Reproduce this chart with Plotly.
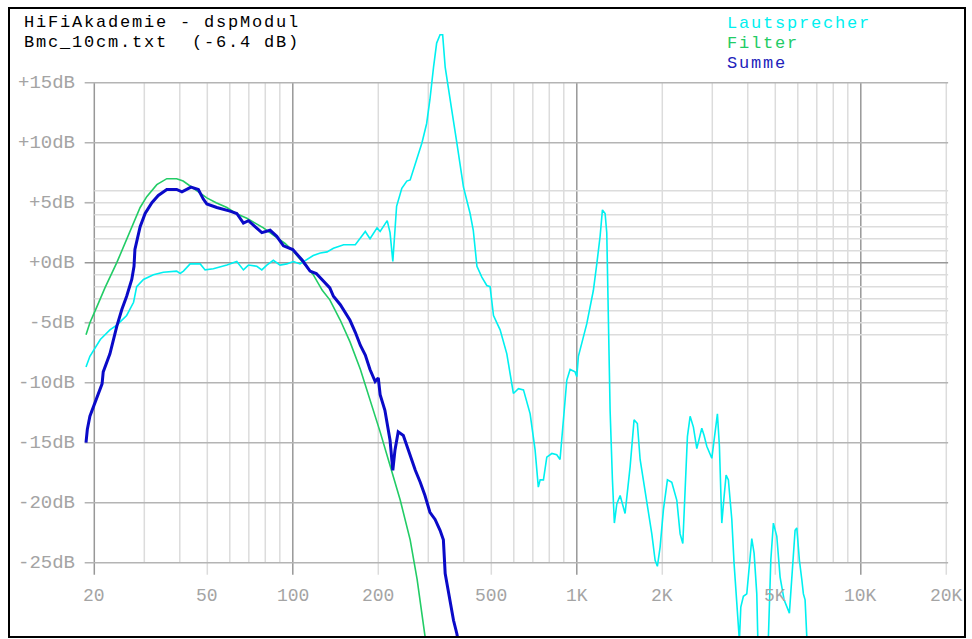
import numpy as np
import plotly.graph_objects as go

# ---- Messdaten (Frequenz in Hz, Pegel in dB) ----
lautsprecher_hz = [18.7, 19.3, 21.0, 22.7, 24.0, 26.0, 27.5, 28.2, 29.8, 32.3,
                   35.0, 39.0, 40.1, 41.2, 43.5, 47.2, 49.1, 52.5, 58.6, 63.5,
                   67.0, 69.8, 74.7, 77.8, 81.0, 85.4, 90.2, 95.2, 100.5, 106,
                   118, 125, 132, 139, 151, 166, 180, 187, 198, 203,
                   215, 220, 225, 229, 232, 242, 252, 259, 270, 285,
                   296, 304, 313, 321, 330, 337, 344, 353, 363, 378,
                   399, 421, 432, 445, 463, 482, 495, 509, 537, 567,
                   598, 623, 649, 685, 713, 732, 743, 763, 784, 817,
                   850, 873, 897, 922, 947, 986, 1000, 1013, 1084, 1144,
                   1176, 1208, 1231, 1258, 1275, 1292, 1310, 1335, 1356, 1383,
                   1421, 1479, 1541, 1591, 1634, 1671, 1764, 1837, 1887, 1922,
                   1965, 2018, 2085, 2160, 2250, 2311, 2362, 2406, 2452, 2506,
                   2574, 2646, 2755, 2807, 2869, 2988, 3069, 3127, 3178, 3240,
                   3301, 3355, 3418, 3514, 3580, 3659, 3737, 3780, 3860, 3968,
                   4076, 4132, 4210, 4303, 4338, 4492, 4728, 4821, 4923, 5061,
                   5198, 5369, 5605, 5715, 5870, 5952, 6079, 6198, 6279, 6366,
                   6455, 6630]
lautsprecher_db = [-8.7, -7.8, -6.4, -5.6, -5.2, -4.4, -3.3, -2.0, -1.4, -1.0,
                   -0.8, -0.7, -0.9, -0.7, -0.1, -0.1, -0.6, -0.5, -0.2, 0.1,
                   -0.6, -0.2, -0.3, -0.6, -0.2, 0.2, -0.2, -0.1, 0.1, -0.1,
                   0.6, 0.8, 0.9, 1.2, 1.5, 1.5, 2.6, 2.0, 2.9, 2.6,
                   3.5, 2.5, 0.1, 2.5, 4.7, 6.2, 6.8, 6.9, 8.3, 10.0,
                   11.6, 13.6, 16.3, 18.3, 19.0, 19.0, 16.3, 14.7, 12.7, 10.0,
                   6.3, 4.1, 2.7, -0.3, -1.2, -1.9, -2.0, -4.4, -5.6, -7.6,
                   -10.9, -10.5, -10.6, -12.6, -15.6, -18.7, -18.1, -18.1, -16.2, -15.9,
                   -16.0, -16.4, -13.4, -9.8, -8.9, -9.1, -9.5, -7.8, -5.1, -2.3,
                   -0.1, 2.2, 4.4, 4.1, 2.5, -6.4, -12.3, -18.1, -21.7, -20.1,
                   -19.4, -20.9, -17.0, -13.1, -13.4, -16.4, -19.8, -22.6, -24.8, -25.3,
                   -23.7, -20.6, -18.1, -18.3, -19.8, -22.6, -23.4, -19.2, -14.5, -12.8,
                   -13.7, -15.5, -13.8, -14.4, -15.3, -16.3, -14.2, -12.6, -15.3, -21.7,
                   -19.5, -17.7, -18.1, -21.4, -25.1, -28.1, -31.5, -28.7, -27.8, -27.6,
                   -24.8, -23.0, -24.2, -27.6, -31.2, -34.0, -31.2, -24.8, -21.7, -22.8,
                   -26.2, -28.1, -29.2, -26.2, -22.3, -22.1, -24.8, -26.4, -27.6, -28.1,
                   -31.2, -33.1]

filter_hz = [18.7, 19.3, 20.4, 21.8, 24.0, 25.7, 27.4, 29.0, 30.6, 33.2,
             36.0, 39.0, 41.1, 43.5, 47.2, 49.8, 53.7, 58.6, 63.1, 68.9,
             73.7, 78.8, 86.6, 93.9, 100, 106, 118, 127, 135, 147,
             159, 173, 187, 203, 220, 239, 259, 274, 292, 304]
filter_db = [-6.0, -5.0, -3.7, -2.1, 0.0, 1.7, 3.3, 4.6, 5.5, 6.5,
             7.0, 7.0, 6.8, 6.4, 5.8, 5.4, 5.0, 4.6, 4.1, 3.7,
             3.3, 2.9, 2.2, 1.6, 1.0, 0.3, -1.0, -2.3, -3.1, -4.8,
             -6.6, -8.9, -11.4, -14.1, -16.9, -19.8, -23.1, -26.4, -31.1, -35.0]

summe_hz = [18.7, 18.9, 19.3, 20.4, 21.3, 21.5, 22.7, 24.0, 25.0, 26.0,
            27.1, 27.6, 27.8, 29.0, 30.2, 31.9, 33.6, 36.0, 39.0, 40.7,
            42.3, 43.8, 46.5, 48.4, 49.8, 54.0, 60.1, 63.5, 67.0, 69.8,
            77.8, 83.2, 87.8, 92.7, 100, 108, 115, 121, 135, 139,
            147, 159, 166, 173, 180, 187, 195, 200, 203, 211,
            220, 225, 229, 235, 245, 255, 270, 281, 292, 304,
            317, 330, 339, 344, 353, 361, 368, 378, 388]
summe_db = [-15.0, -13.9, -12.8, -11.2, -10.1, -9.1, -7.6, -5.3, -3.9, -2.8,
            -1.4, -0.3, 1.1, 3.0, 4.1, 5.0, 5.6, 6.1, 6.1, 5.9,
            6.1, 6.3, 6.1, 5.3, 4.9, 4.6, 4.3, 4.1, 3.3, 3.5,
            2.5, 2.7, 2.2, 1.4, 1.1, 0.2, -0.7, -0.9, -2.1, -2.8,
            -3.5, -4.8, -5.8, -6.9, -7.7, -8.9, -9.9, -9.6, -11.0, -12.3,
            -14.8, -17.3, -15.6, -14.1, -14.4, -15.6, -17.3, -18.3, -19.4, -20.8,
            -21.4, -22.3, -23.1, -25.9, -27.3, -28.7, -29.8, -30.9, -32.3]

# ---- Achsenbeschriftung ----
x_tick_hz = [20, 50, 100, 200, 500, 1000, 2000, 5000, 10000, 20000]
x_tick_text = ["20", "50", "100", "200", "500", "1K", "2K", "5K", "10K", "20K"]
y_tick_db = [15, 10, 5, 0, -5, -10, -15, -20, -25]
y_tick_text = ["+15dB", "+10dB", "+5dB", "+0dB", "-5dB", "-10dB", "-15dB", "-20dB", "-25dB"]
minor_db = [6, 4, 3, 2, 1, -1, -2, -3, -4, -6]
minor_hz = ([30, 40, 60, 70, 80, 90] + [300, 400, 600, 700, 800, 900]
            + [3000, 4000, 6000, 7000, 8000, 9000])

title_lines = ["HiFiAkademie - dspModul", "Bmc_10cm.txt  (-6.4 dB)"]
series_names = ["Lautsprecher", "Filter", "Summe"]

# ---- Farben ----
C_CYAN = "#00F0F0"
C_GREEN = "#22CC66"
C_BLUE = "#0A0AC8"
C_BLUE_TEXT = "#2222BB"
C_LABEL = "#A4A4A4"
C_GRID_LIGHT = "#DCDCDC"
C_GRID_MID = "#B4B4B4"
C_GRID_DARK = "#989898"
FONT = "Liberation Mono"

# ---- Geometrie des Diagrammrahmens (Pixel) ----
W, H = 972, 639
FRAME_L, FRAME_R, FRAME_T, FRAME_B = 10, 964, 9, 636
X_RANGE = [1.0042, 4.3634]          # log10(Hz) am Rahmenrand
Y_RANGE = [-31.11, 21.14]           # dB am Rahmenrand
GRID_LEFT_HZ, GRID_RIGHT_HZ = 18.5, 20300
TICK_BOTTOM_DB = -26.0
Y_LABEL_HZ = 17.4
X_LABEL_DB = -27.8


def paper_x(px):
    return (px - FRAME_L) / (FRAME_R - FRAME_L)


def paper_y(py):
    return (FRAME_B - py) / (FRAME_B - FRAME_T)


def text_block(lines, colors, size_px, spacing_px):
    # mehrzeiliger Text; Zeilenabstand kommt von der Grundschrift der Annotation,
    # die breite Zeichenteilung der Bildschirmschrift per letter-spacing
    parts = []
    for line, col in zip(lines, colors):
        parts.append('<span style="font-size:%dpx;letter-spacing:%.1fpx;color:%s">%s</span>'
                     % (size_px, spacing_px, col, line.replace(" ", "&nbsp;")))
    return "<br>".join(parts)


fig = go.Figure()

fig.add_trace(go.Scatter(x=lautsprecher_hz, y=lautsprecher_db, mode="lines",
                         name=series_names[0], line=dict(color=C_CYAN, width=1.6)))
fig.add_trace(go.Scatter(x=filter_hz, y=filter_db, mode="lines",
                         name=series_names[1], line=dict(color=C_GREEN, width=1.6)))
fig.add_trace(go.Scatter(x=summe_hz, y=summe_db, mode="lines",
                         name=series_names[2], line=dict(color=C_BLUE, width=3)))

shapes = []
# senkrechte Rasterlinien
for f in minor_hz:
    shapes.append(dict(type="line", xref="x", yref="y", x0=f, x1=f, y0=-25, y1=15,
                       line=dict(color=C_GRID_LIGHT, width=1.5), layer="below"))
for f in x_tick_hz:
    col = C_GRID_DARK if f in (20, 100, 1000, 10000) else C_GRID_LIGHT
    shapes.append(dict(type="line", xref="x", yref="y", x0=f, x1=f, y0=TICK_BOTTOM_DB, y1=15,
                       line=dict(color=col, width=1.5), layer="below"))
# waagrechte Rasterlinien
for d in minor_db:
    shapes.append(dict(type="line", xref="x", yref="y", x0=20, x1=GRID_RIGHT_HZ, y0=d, y1=d,
                       line=dict(color=C_GRID_LIGHT, width=1.5), layer="below"))
for d in y_tick_db:
    if d == 0:
        col = C_GRID_DARK
    elif d in (5, -5):
        col = C_GRID_LIGHT
    else:
        col = C_GRID_MID
    shapes.append(dict(type="line", xref="x", yref="y", x0=GRID_LEFT_HZ, x1=GRID_RIGHT_HZ,
                       y0=d, y1=d, line=dict(color=col, width=1.5), layer="below"))
    if d in (5, -5):
        shapes.append(dict(type="line", xref="x", yref="y", x0=GRID_LEFT_HZ, x1=20,
                           y0=d, y1=d, line=dict(color=C_GRID_MID, width=1.5), layer="below"))

annotations = []
for d, t in zip(y_tick_db, y_tick_text):
    annotations.append(dict(x=np.log10(Y_LABEL_HZ), y=d, xref="x", yref="y", text=t,
                            showarrow=False, xanchor="right", yanchor="middle",
                            font=dict(family=FONT, size=19, color=C_LABEL)))
for f, t in zip(x_tick_hz, x_tick_text):
    annotations.append(dict(x=np.log10(f), y=X_LABEL_DB, xref="x", yref="y", text=t,
                            showarrow=False, xanchor="center", yanchor="middle",
                            font=dict(family=FONT, size=18, color=C_LABEL)))

# Kopfzeilen und Legende als je ein mehrzeiliger Textblock
annotations.append(dict(x=paper_x(22), y=paper_y(10.8), xref="paper", yref="paper",
                        text=text_block(title_lines, ["#000000"] * 2, 17, 1.8),
                        showarrow=False, xanchor="left", yanchor="top", align="left",
                        font=dict(family=FONT, size=15.15, color="#000000")))
annotations.append(dict(x=paper_x(725), y=paper_y(12.2), xref="paper", yref="paper",
                        text=text_block(series_names, [C_CYAN, C_GREEN, C_BLUE_TEXT], 17, 1.8),
                        showarrow=False, xanchor="left", yanchor="top", align="left",
                        font=dict(family=FONT, size=15.38, color="#000000")))

axis_common = dict(showgrid=False, zeroline=False, showticklabels=False, ticks="",
                   showline=True, mirror=True, linecolor="#000000", linewidth=2)

fig.update_layout(
    width=W, height=H,
    margin=dict(l=FRAME_L, r=W - FRAME_R, t=FRAME_T, b=H - FRAME_B, pad=0),
    paper_bgcolor="#FFFFFF", plot_bgcolor="#FFFFFF",
    showlegend=False,
    xaxis=dict(type="log", range=X_RANGE, **axis_common),
    yaxis=dict(range=Y_RANGE, **axis_common),
    shapes=shapes,
    annotations=annotations,
)

fig.write_html("out.html", config={"displayModeBar": False})
